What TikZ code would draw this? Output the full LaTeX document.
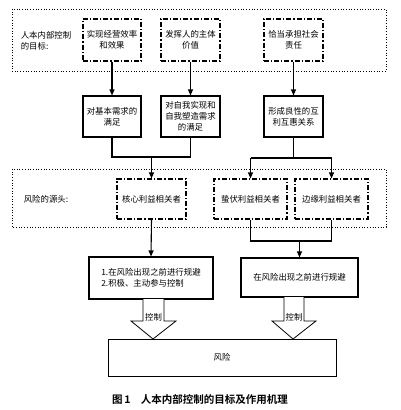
\documentclass[tikz,border=0pt]{standalone}
\usepackage{fontspec}
\setmainfont{Noto Sans CJK SC}
\newfontfamily\capfont{Noto Sans CJK SC Bold}
\usetikzlibrary{arrows.meta}
\begin{document}
\begin{tikzpicture}[x=1pt,y=-1pt,
  outer/.style={draw, line width=0.7pt, dotted},
  goal/.style={draw, line width=1.1pt, dash pattern=on 5pt off 2pt on 1.2pt off 2pt, align=center, inner sep=0pt, font=\fontsize{8.4}{11}\selectfont},
  solidbox/.style={draw, line width=1.1pt, align=center, inner sep=0pt, font=\fontsize{8.4}{11}\selectfont},
  plain/.style={align=left, inner sep=0pt, font=\fontsize{8.4}{11}\selectfont},
  conn/.style={line width=1.1pt},
  arr/.style={line width=1.1pt, -{Triangle[length=6pt,width=5pt]}},
]
\useasboundingbox (0,0) rectangle (400,410);
% outer dotted boxes
\draw[outer] (12,9) rectangle (386,71);
\draw[outer] (12,169) rectangle (386,227);
\node[plain] (lab1) at (46,41) {人本内部控制\\的目标:};
\node[plain] (lab2) at (46,199) {风险的源头:};
% goal boxes
\node[goal, minimum width=58pt, minimum height=42pt] (A) at (112,40) {实现经营效率\\和效果};
\node[goal, minimum width=59pt, minimum height=42pt] (B) at (190.5,40) {发挥人的主体\\价值};
\node[goal, minimum width=59pt, minimum height=42pt] (C) at (293.5,40) {恰当承担社会\\责任};
% needs
\node[solidbox, minimum width=58pt, minimum height=41pt] (D) at (112,116.5) {对基本需求的\\满足};
\node[solidbox, minimum width=59pt, minimum height=41pt] (E) at (190.5,116.5) {对自我实现和\\自我塑造需求\\的满足};
\node[solidbox, minimum width=59pt, minimum height=41pt] (F) at (293.5,116.5) {形成良性的互\\利互惠关系};
\draw[arr] (A.south) -- (D.north);
\draw[arr] (B.south) -- (E.north);
\draw[arr] (C.south) -- (F.north);
% stakeholders
\node[goal, minimum width=69pt, minimum height=40pt] (K) at (151.5,199) {核心利益相关者};
\node[goal, minimum width=73pt, minimum height=40pt] (S) at (250.5,199) {蛰伏利益相关者};
\node[goal, minimum width=73pt, minimum height=40pt] (M) at (331.5,199) {边缘利益相关者};
\coordinate (j1) at (151.5,157);
\draw[conn] (D.south) |- (j1) -| (E.south);
\draw[arr] (j1) -- (K.north);
\coordinate (j2) at (293.5,158);
\coordinate (j2s) at (250.5,158);
\coordinate (j2m) at (331.5,158);
\draw[conn] (F.south) -- (j2);
\draw[conn] (j2s) -- (j2m);
\draw[arr] (j2s) -- (S.north);
\draw[arr] (j2m) -- (M.north);
% avoidance boxes
\node[solidbox, minimum width=124pt, minimum height=42pt, align=left] (G) at (151,278) {1.在风险出现之前进行规避\\2.积极、主动参与控制};
\node[solidbox, minimum width=117pt, minimum height=39pt] (H) at (299.5,277.5) {在风险出现之前进行规避};
\draw[arr] (K.south) -- (G.north |- G.north);
\coordinate (j3) at (299.5,241);
\draw[conn] (S.south) |- (j3) -| (M.south);
\draw[arr] (j3) -- (H.north);
% risk
\node[solidbox, line width=0.8pt, minimum width=228pt, minimum height=37pt] (R) at (222,357.5) {风险};
% hollow arrows
\draw[line width=0.8pt, fill=white] (143,299) -- (143,321) -- (131,321) -- (153,339) -- (176,321) -- (164,321) -- (164,299);
\draw[line width=0.8pt, fill=white] (284,297) -- (284,321) -- (272,321) -- (293,339) -- (316,321) -- (304,321) -- (304,297);
\node[plain] (k1) at (153.5,317) {控制};
\node[plain] (k2) at (294,317) {控制};
% caption
\node[inner sep=0pt, font=\capfont\fontsize{10.5}{12}\selectfont] (cap) at (200,399) {图\,1\quad 人本内部控制的目标及作用机理};
\end{tikzpicture}
\end{document}
